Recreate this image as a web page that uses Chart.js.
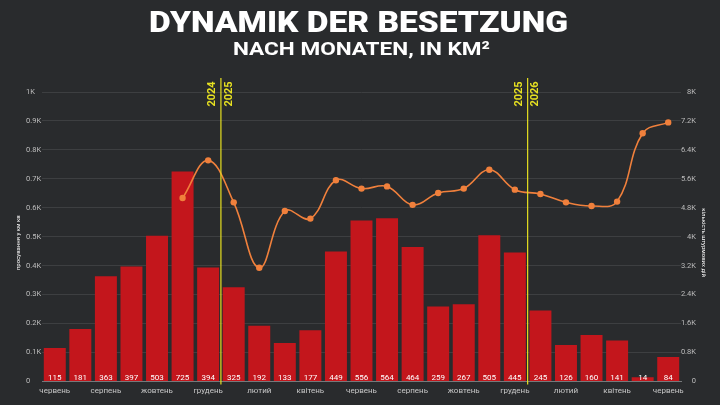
<!DOCTYPE html>
<html><head><meta charset="utf-8">
<script src="https://cdn.jsdelivr.net/npm/chart.js@4"></script>
<style>html,body{margin:0;padding:0;background:#292b2d;}canvas{display:block;}</style>
</head><body>
<canvas id="c" width="720" height="405"></canvas>
<script>
const titleText = "DYNAMIK DER BESETZUNG";
const subtitleText = "NACH MONATEN, IN KM²";
const leftAxisTitle = "просування у км кв";
const rightAxisTitle = "кількість штурмових дій";
const months = ["червень","липень","серпень","вересень","жовтень","листопад","грудень","січень","лютий","березень","квітень","травень","червень","липень","серпень","вересень","жовтень","листопад","грудень","січень","лютий","березень","квітень","травень","червень"];
const areaKm2 = [115,181,363,397,503,725,394,325,192,133,177,449,556,564,464,259,267,505,445,245,126,160,141,14,84];
const assaults = [null,null,null,null,null,5070,6110,4950,3140,4710,4500,5560,5330,5390,4880,5210,5330,5850,5300,5180,4950,4850,4970,6860,7160];
const yearBreaks = [{after:6, left:"2024", right:"2025"},{after:18, left:"2025", right:"2026"}];
const leftTicks = ["0","0.1K","0.2K","0.3K","0.4K","0.5K","0.6K","0.7K","0.8K","0.9K","1K"];
const rightTicks = ["0","0.8K","1.6K","2.4K","3.2K","4K","4.8K","5.6K","6.4K","7.2K","8K"];

function drawWide(ctx, text, font, cx, cy, targetW){
  ctx.save();
  ctx.font = font;
  const w = ctx.measureText(text).width;
  const s = targetW / w;
  ctx.translate(cx, cy);
  ctx.scale(s, 1);
  ctx.textAlign = 'center'; ctx.textBaseline = 'middle';
  ctx.fillStyle = '#ffffff';
  ctx.fillText(text, 0, 0);
  ctx.restore();
}
function drawRotated(ctx, text, x, y, angle, font, color){
  ctx.save();
  ctx.translate(x, y); ctx.rotate(angle);
  ctx.font = font; ctx.fillStyle = color;
  ctx.textAlign='center'; ctx.textBaseline='middle';
  ctx.fillText(text, 0, 0);
  ctx.restore();
}

const overlay = {
  id:'overlay',
  afterDraw(chart){
    const ctx = chart.ctx, area = chart.chartArea;
    drawWide(ctx, titleText, '900 30px Roboto', 358.5, 24, 419);
    drawWide(ctx, subtitleText, 'bold 19px Roboto', 361.5, 50, 257);
    const cy = (area.top + area.bottom)/2 + 6;
    drawRotated(ctx, leftAxisTitle, area.left - 24, cy, -Math.PI/2, '6px Roboto', '#ffffff');
    drawRotated(ctx, rightAxisTitle, area.right + 22, cy, Math.PI/2, '6px Roboto', '#ffffff');
  },
  afterDatasetsDraw(chart){
    const ctx = chart.ctx, x = chart.scales.x, area = chart.chartArea;
    const meta = chart.getDatasetMeta(1);
    ctx.save();
    ctx.font = '8px Roboto';
    ctx.fillStyle = '#ffffff';
    ctx.textAlign = 'center'; ctx.textBaseline = 'middle';
    meta.data.forEach((bar,i)=>{ ctx.fillText(String(areaKm2[i]), bar.x, area.bottom - 3); });
    ctx.restore();
    yearBreaks.forEach(b=>{
      const px = (x.getPixelForValue(b.after) + x.getPixelForValue(b.after+1))/2;
      ctx.save();
      ctx.strokeStyle = '#e6e021'; ctx.lineWidth = 1.2;
      ctx.beginPath(); ctx.moveTo(px, area.top - 14); ctx.lineTo(px, area.bottom + 3); ctx.stroke();
      ctx.restore();
      drawRotated(ctx, b.left, px - 8.5, area.top + 2, -Math.PI/2, 'bold 11px Roboto', '#e6e021');
      drawRotated(ctx, b.right, px + 8, area.top + 2, -Math.PI/2, 'bold 11px Roboto', '#e6e021');
    });
  }
};

new Chart(document.getElementById('c'), {
  data:{
    labels: months,
    datasets:[
      {type:'line', data:assaults, yAxisID:'y2', borderColor:'#f0803c', backgroundColor:'#f0803c',
       borderWidth:1.6, pointRadius:3.2, pointBackgroundColor:'#f0803c', pointBorderWidth:0, tension:0.4, order:0},
      {type:'bar', data:areaKm2, yAxisID:'y', backgroundColor:'#c3161c', borderWidth:0,
       categoryPercentage:1.0, barPercentage:0.86, order:1}
    ]
  },
  options:{
    responsive:false, animation:false,
    layout:{padding:{left:26, right:24, top:92, bottom:4}},
    plugins:{ legend:{display:false}, tooltip:{enabled:false}, title:{display:false} },
    scales:{
      x:{grid:{display:false, drawTicks:false}, border:{display:true, color:'#77797b'},
        ticks:{autoSkip:false, maxRotation:0, color:'#c8c8c8', font:{family:'Roboto', size:8}, padding:5,
          callback:(v,i)=> i%2===0 ? months[i] : ''}},
      y:{position:'left', min:0, max:1000, grid:{color:'#3d3f41', drawTicks:false}, border:{display:false},
        afterFit:(s)=>{ s.width = 16; },
        ticks:{stepSize:100, crossAlign:'far', color:'#bdbdbd', font:{family:'Roboto', size:7.5}, padding:1, callback:(v,i)=>leftTicks[i]}},
      y2:{position:'right', min:0, max:8000, grid:{display:false, drawTicks:false}, border:{display:false},
        afterFit:(s)=>{ s.width = 15; },
        ticks:{stepSize:800, crossAlign:'far', color:'#bdbdbd', font:{family:'Roboto', size:7.5}, padding:1, callback:(v,i)=>rightTicks[i]}}
    }
  },
  plugins:[overlay]
});
</script>
</body></html>
